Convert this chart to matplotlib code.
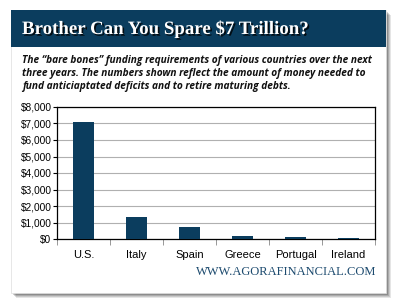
import matplotlib
matplotlib.use("Agg")
import matplotlib.pyplot as plt
import matplotlib.patheffects as pe
from matplotlib.patches import Rectangle
from matplotlib.ticker import FuncFormatter

countries = ["U.S.", "Italy", "Spain", "Greece", "Portugal", "Ireland"]
funding = [7100, 1330, 710, 180, 100, 90]
yticks = [0, 1000, 2000, 3000, 4000, 5000, 6000, 7000, 8000]

title = "Brother Can You Spare $7 Trillion?"
subtitle = ("The \u201cbare bones\u201d funding requirements of various countries over the next\n"
            "three years. The numbers shown reflect the amount of money needed to\n"
            "fund anticiaptated deficits and to retire maturing debts.")
site = "WWW.AGORAFINANCIAL.COM"

navy = "#0b3d5e"
W, H = 400, 307

fig = plt.figure(figsize=(4, 3.07), dpi=100)
fig.patch.set_facecolor("white")

def fx(x):
    return x / W

def fy(y):
    return 1 - y / H

# card shadow
for i, a in enumerate([0.10, 0.12, 0.15, 0.18]):
    off = 5 - i
    fig.patches.append(Rectangle((fx(11 + off), fy(293 + off)), fx(375), 283 / H,
                                 transform=fig.transFigure, facecolor="black",
                                 alpha=a, edgecolor="none", zorder=0))
# card
fig.patches.append(Rectangle((fx(11), fy(293)), fx(375), 283 / H,
                             transform=fig.transFigure, facecolor="white",
                             edgecolor="#dddddd", lw=0.5, zorder=1))
# header band
fig.patches.append(Rectangle((fx(11), fy(47)), fx(375), 37 / H,
                             transform=fig.transFigure, facecolor=navy,
                             edgecolor="none", zorder=2))

fig.text(fx(22), fy(29), title, color="white", fontsize=13.6, fontweight="bold",
         family="Liberation Serif", va="center", ha="left", zorder=3,
         path_effects=[pe.withSimplePatchShadow(offset=(1.2, -1.2), shadow_rgbFace="black", alpha=0.8)])

fig.text(fx(22), fy(55), subtitle, color="#111111", fontsize=7.3, fontweight="bold",
         style="italic", family="Open Sans", va="top", ha="left", linespacing=1.25, zorder=3)

ax = fig.add_axes([fx(57), fy(239), fx(318), 132 / H])
ax.set_zorder(3)
x = range(len(countries))
ax.bar(x, funding, width=0.4, color=navy, zorder=3)
ax.set_xlim(-0.5, len(countries) - 0.5)
ax.set_ylim(0, 8000)
ax.set_yticks(yticks)
ax.yaxis.set_major_formatter(FuncFormatter(lambda v, p: "${:,.0f}".format(v)))
ax.set_xticks(list(x))
ax.set_xticklabels(countries)
ax.set_xticks([i - 0.5 for i in range(len(countries) + 1)], minor=True)
ax.tick_params(axis="x", which="major", length=0, pad=8, labelsize=8)
ax.tick_params(axis="x", which="minor", length=4, color="#888888", direction="out")
ax.tick_params(axis="y", length=3, labelsize=7.3, pad=1)
for lbl in ax.get_xticklabels() + ax.get_yticklabels():
    lbl.set_family("Liberation Sans")
ax.grid(axis="y", color="#b0b0b0", lw=0.8, zorder=0)
for s in ax.spines.values():
    s.set_color("black")
    s.set_linewidth(0.9)

fig.text(fx(376), fy(272), site, color="#1c4a6e", fontsize=9.0,
         family="Liberation Serif", va="center", ha="right", zorder=3)

fig.savefig("out.png", dpi=100)
